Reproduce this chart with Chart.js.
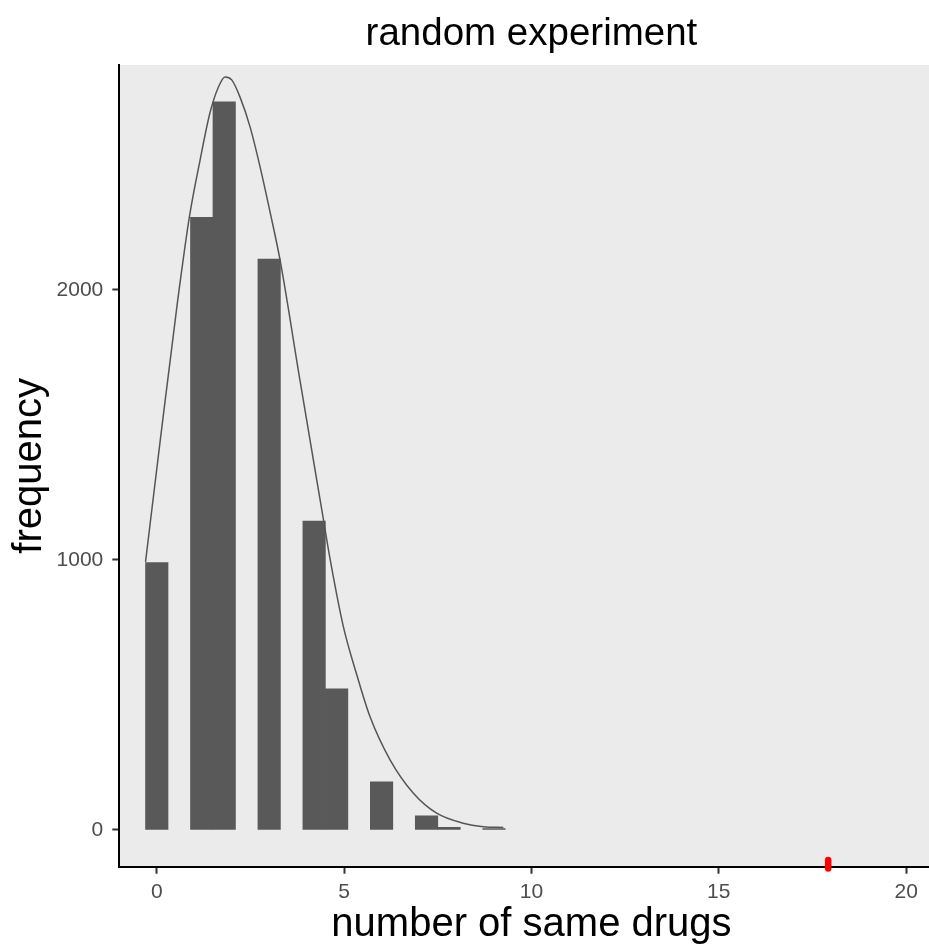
<!DOCTYPE html>
<html><head><meta charset="utf-8">
<script src="https://cdn.jsdelivr.net/npm/chart.js@4.4.1/dist/chart.umd.min.js"></script>
<style>html,body{margin:0;padding:0;background:#fff;overflow:hidden;width:929px;height:946px;}</style>
</head><body>
<canvas id="c" width="946" height="946" style="display:block;width:946px;height:946px;"></canvas>
<script>
// histogram bins (centre of each non-empty bin, bin width 0.6) and counts
const binCenters = [0, 1.2, 1.8, 3.0, 4.2, 4.8, 6.0, 7.2, 7.8, 9.0];
const binCounts  = [990, 2269, 2697, 2114, 1144, 523, 178, 52, 10, 5];
// smooth curve
const curveX = [-0.3, 0.088, 0.56, 0.87, 1.156, 1.42, 1.635, 1.82, 2.0, 2.22, 2.49, 2.757, 3.023, 3.29, 3.82, 4.45, 4.63, 4.98, 5.34, 5.69, 6.23, 6.85, 7.47, 8.18, 8.72, 9.25];
const curveY = [993, 1437, 1963, 2270, 2481, 2656, 2748, 2789, 2778, 2715, 2604, 2456, 2289, 2111, 1667, 1148, 1000, 753, 574, 420, 259, 136, 62, 25, 12, 9];
// observed value (red mark)
const observedX = [17.92, 17.92];
const observedY = [-111, -143];
// axis ticks
const xTicks = [0, 5, 10, 15, 20];
const yTicks = [0, 1000, 2000];

const FONT = "'Liberation Sans', Arial, sans-serif";

const panelBg = {
  id: 'panelBg',
  beforeDraw(chart) {
    const {ctx, chartArea: a} = chart;
    ctx.save();
    ctx.fillStyle = '#EBEBEB';
    ctx.fillRect(a.left, a.top, a.right - a.left, a.bottom - a.top);
    ctx.restore();
  }
};

new Chart(document.getElementById('c'), {
  type: 'bar',
  data: {
    datasets: [
      {
        type: 'line',
        data: curveX.map((x, i) => ({x, y: curveY[i]})),
        borderColor: '#555555',
        borderWidth: 1.5,
        pointRadius: 0,
        cubicInterpolationMode: 'monotone',
        fill: false,
        order: 1
      },
      {
        type: 'bar',
        data: binCenters.map((x, i) => ({x, y: binCounts[i]})),
        backgroundColor: '#595959',
        borderWidth: 0,
        categoryPercentage: 1,
        barPercentage: 1,
        order: 2
      },
      {
        type: 'line',
        data: observedX.map((x, i) => ({x, y: observedY[i]})),
        borderColor: '#FF0000',
        borderWidth: 6.5,
        borderCapStyle: 'round',
        pointRadius: 0,
        clip: false,
        order: 0
      }
    ]
  },
  options: {
    responsive: false,
    devicePixelRatio: 1,
    animation: false,
    events: [],
    layout: {padding: {left: 0, top: 0, right: 2.4, bottom: 0}},
    plugins: {
      legend: {display: false},
      tooltip: {enabled: false},
      title: {
        display: true,
        text: 'random experiment',
        fullSize: false,
        color: '#000000',
        font: {family: FONT, size: 38.5, weight: 'normal', lineHeight: 1.2},
        padding: {top: 11, bottom: 7.8}
      }
    },
    scales: {
      x: {
        type: 'linear',
        min: -1,
        max: 21,
        offset: false,
        afterBuildTicks(s) { s.ticks = xTicks.map(v => ({value: v})); },
        afterFit(s) { s.height = 79.3; },
        grid: {offset: false, drawOnChartArea: false, drawTicks: true, tickLength: 7, tickColor: '#333333', tickWidth: 2},
        border: {display: true, color: '#000000', width: 2},
        ticks: {color: '#4D4D4D', font: {family: FONT, size: 21}, padding: 6, maxRotation: 0, autoSkip: false, callback: v => String(v)},
        title: {display: true, text: 'number of same drugs', color: '#000000', font: {family: FONT, size: 40, lineHeight: 1.07}, padding: 0}
      },
      y: {
        type: 'linear',
        min: -136,
        max: 2833,
        afterBuildTicks(s) { s.ticks = yTicks.map(v => ({value: v})); },
        afterFit(s) { s.width = 119.3; },
        grid: {drawOnChartArea: false, drawTicks: true, tickLength: 7, tickColor: '#333333', tickWidth: 2},
        border: {display: true, color: '#000000', width: 2},
        ticks: {color: '#4D4D4D', font: {family: FONT, size: 21}, padding: 9, autoSkip: false, callback: v => String(v)},
        title: {display: true, text: 'frequency', color: '#000000', font: {family: FONT, size: 40, lineHeight: 1.1}, padding: {top: 8, bottom: 0}}
      }
    }
  },
  plugins: [panelBg]
});
</script>
</body></html>
